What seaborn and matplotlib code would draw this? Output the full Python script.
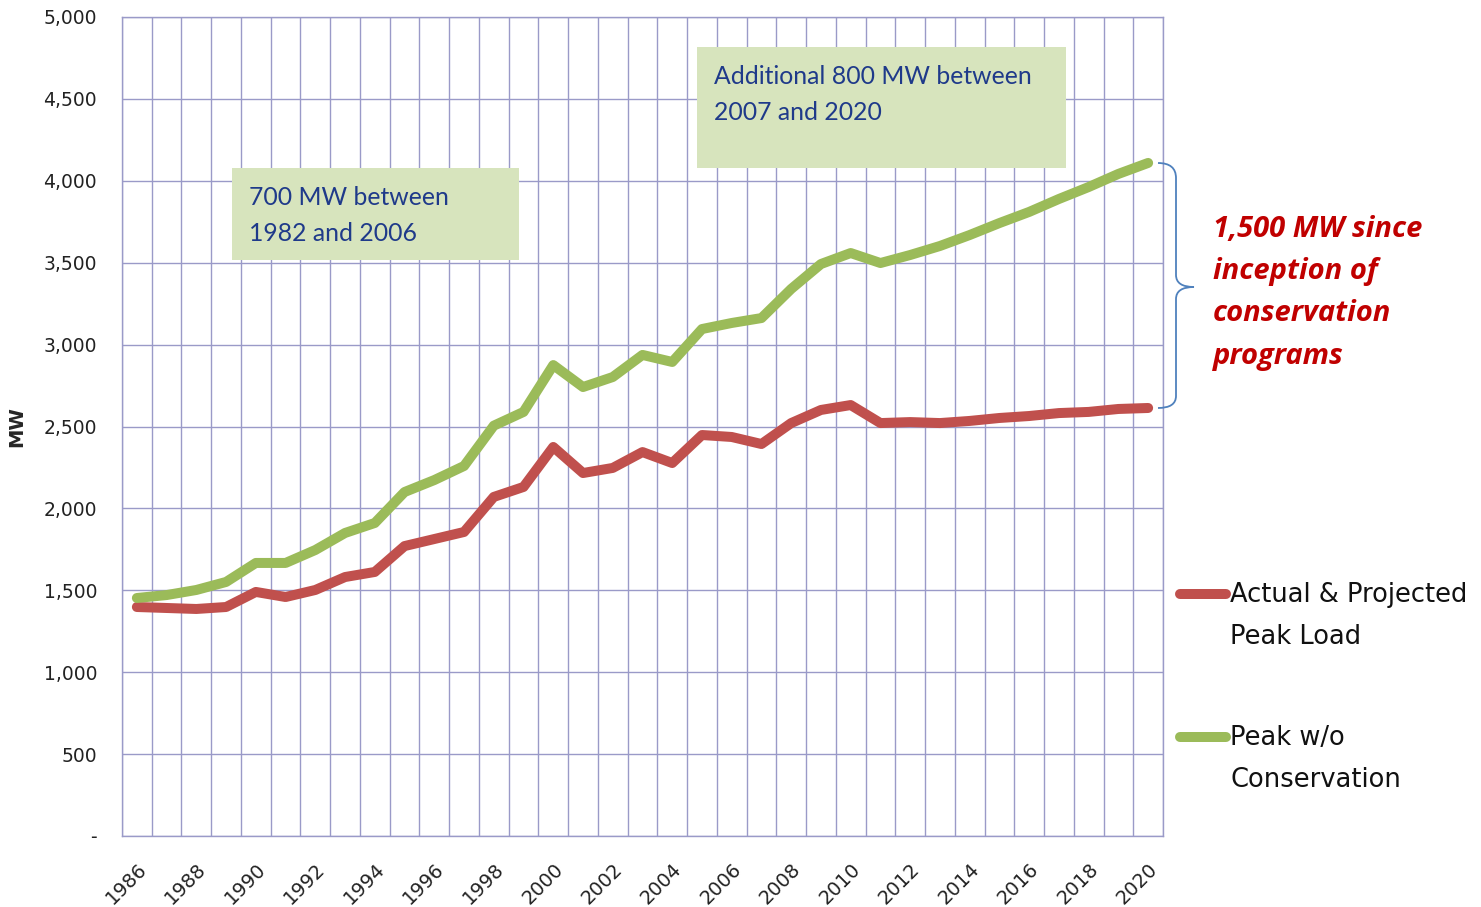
import matplotlib
matplotlib.use("Agg")
import matplotlib.pyplot as plt
import seaborn as sns
import pandas as pd
import numpy as np
from matplotlib.patches import Rectangle, PathPatch
from matplotlib.path import Path
from matplotlib.lines import Line2D
from matplotlib.ticker import FuncFormatter

years = list(range(1986, 2021))
actual_projected = [1398, 1392, 1386, 1398, 1490, 1459, 1502, 1581, 1612, 1770,
                    1813, 1856, 2070, 2131, 2375, 2216, 2247, 2344, 2277, 2448,
                    2436, 2393, 2521, 2601, 2631, 2521, 2527, 2521, 2534, 2552,
                    2564, 2582, 2589, 2607, 2613]
peak_wo_conservation = [1453, 1471, 1502, 1551, 1667, 1667, 1746, 1850, 1911, 2100,
                        2173, 2259, 2505, 2589, 2875, 2741, 2802, 2937, 2894, 3095,
                        3132, 3162, 3340, 3492, 3559, 3498, 3547, 3602, 3669, 3742,
                        3810, 3889, 3962, 4042, 4109]
series_names = ["Actual & Projected\nPeak Load", "Peak w/o\nConservation"]
series_colors = ["#c0504d", "#9bbb59"]
y_ticks = [0, 500, 1000, 1500, 2000, 2500, 3000, 3500, 4000, 4500, 5000]
x_tick_years = list(range(1986, 2021, 2))

df = pd.DataFrame({
    "Year": years * 2,
    "MW": actual_projected + peak_wo_conservation,
    "Series": [series_names[0]] * len(years) + [series_names[1]] * len(years),
})

sns.set_style("white")
plt.rcParams["font.family"] = ["DejaVu Sans"]

W, H = 1481, 907
fig = plt.figure(figsize=(W / 100, H / 100), dpi=100)
ax = fig.add_axes([122 / W, 1 - 836 / H, (1163 - 122) / W, (836 - 17) / H])

sns.lineplot(data=df, x="Year", y="MW", hue="Series", palette=series_colors,
             hue_order=series_names, linewidth=7.2, ax=ax, legend=False,
             solid_capstyle="round", solid_joinstyle="round")

grid_col = "#9a9ac8"
ax.set_xlim(1985.5, 2020.5)
ax.set_ylim(0, 5000)
ax.set_yticks(y_ticks)
ax.yaxis.set_major_formatter(FuncFormatter(lambda v, p: "-" if v == 0 else f"{int(v):,}"))
ax.set_xticks(x_tick_years)
ax.set_xticklabels([str(y) for y in x_tick_years], rotation=45, ha="right",
                   rotation_mode="anchor")
ax.set_xticks(np.arange(1985.5, 2021, 1.0), minor=True)
ax.grid(False)
ax.yaxis.grid(True, color=grid_col, linewidth=1.0)
ax.xaxis.grid(True, which="minor", color=grid_col, linewidth=1.0)
ax.set_axisbelow(True)
for s in ax.spines.values():
    s.set_color(grid_col)
    s.set_linewidth(1.0)
ax.tick_params(axis="x", which="major", length=0, labelsize=14, pad=17, colors="#222222")
ax.tick_params(axis="x", which="minor", length=0)
ax.tick_params(axis="y", length=0, labelsize=13.5, pad=18, colors="#222222")
ax.set_xlabel("")
ax.set_ylabel("MW", fontsize=14, fontweight="bold")
ax.yaxis.set_label_coords(-0.092, 0.5)

box_col = "#d7e4bd"
txt_col = "#1f3a8a"
ax.add_patch(Rectangle((0.1057, 0.7033), 0.3814 - 0.1057, 0.8156 - 0.7033,
                       transform=ax.transAxes, facecolor=box_col, edgecolor="none",
                       zorder=3))
ax.text((249 - 122) / 1041, (836 - 186) / 819, "700 MW between\n1982 and 2006",
        transform=ax.transAxes, fontsize=17.8, color=txt_col, family="Lato",
        va="top", ha="left", linespacing=1.68, zorder=4)
ax.add_patch(Rectangle((0.5524, 0.8156), 0.9068 - 0.5524, 0.9634 - 0.8156,
                       transform=ax.transAxes, facecolor=box_col, edgecolor="none",
                       zorder=3))
ax.text((714 - 122) / 1041, (836 - 65) / 819, "Additional 800 MW between\n2007 and 2020",
        transform=ax.transAxes, fontsize=17.8, color=txt_col, family="Lato",
        va="top", ha="left", linespacing=1.68, zorder=4)

def px(x, y):
    return (x / W, 1 - y / H)

verts = [px(1158, 163), px(1176, 163), px(1176, 178),
         px(1176, 275),
         px(1176, 287), px(1194, 287),
         px(1176, 287), px(1176, 299),
         px(1176, 396),
         px(1176, 408), px(1158, 408)]
codes = [Path.MOVETO, Path.CURVE3, Path.CURVE3,
         Path.LINETO,
         Path.CURVE3, Path.CURVE3,
         Path.CURVE3, Path.CURVE3,
         Path.LINETO,
         Path.CURVE3, Path.CURVE3]
fig.add_artist(PathPatch(Path(verts, codes), transform=fig.transFigure,
                         facecolor="none", edgecolor="#4f81bd", linewidth=1.3))

fig.text(1213 / W, 1 - 215 / H, "1,500 MW since\ninception of\nconservation\nprograms",
         fontsize=21, color="#c00000", fontweight="bold", fontstyle="italic",
         family="Open Sans", va="top", ha="left", linespacing=1.6)

for i, (name, col, ly) in enumerate(zip(series_names, series_colors, [594, 737])):
    fig.add_artist(Line2D([1180 / W, 1226 / W], [1 - ly / H, 1 - ly / H],
                          transform=fig.transFigure, color=col, linewidth=7.2,
                          solid_capstyle="round"))
    fig.text(1230 / W, 1 - (ly - 12) / H, name, fontsize=18.5, color="#111111",
             va="top", ha="left", linespacing=1.8)

fig.savefig("out.png", dpi=100)
